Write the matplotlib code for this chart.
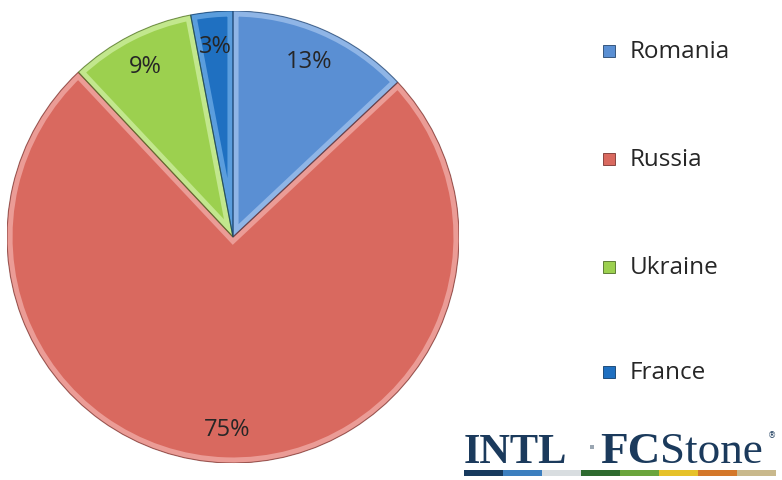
import matplotlib.pyplot as plt
from matplotlib.patches import Rectangle, Wedge

# data
countries = ["Romania", "Russia", "Ukraine", "France"]
shares = [13, 75, 9, 3]
colors = ["#5a8fd3", "#d9695f", "#9cd04f", "#1f70c1"]
rims = ["#8fb5e6", "#eb9c96", "#c2e78d", "#5a9ddd"]
edges = ["#24456e", "#7a3430", "#4f6e26", "#0f3c6a"]

# logo stripe colours
stripe = ["#173a5e", "#3c7fbf", "#d8dde0", "#2d6a2f", "#6aa53c",
          "#e6c229", "#d4782a", "#c9b98c"]

fig = plt.figure(figsize=(7.82, 4.81), dpi=100)
ax = fig.add_axes([7 / 782, 17 / 481, 452 / 782, 452 / 481])

wedges, texts, autotexts = ax.pie(
    shares, colors=colors, startangle=90, counterclock=False, radius=1.0,
    autopct="%d%%", pctdistance=0.85,
    wedgeprops=dict(linewidth=0))

# bevel: a light stroke clipped to each wedge, then a thin dark outline
for w, rim, e in zip(wedges, rims, edges):
    r = ax.add_patch(Wedge(w.center, w.r, w.theta1, w.theta2, facecolor="none",
                           edgecolor=rim, linewidth=8, zorder=w.get_zorder() + 0.1))
    r.set_clip_path(w)
    o = ax.add_patch(Wedge(w.center, w.r, w.theta1, w.theta2, facecolor="none",
                           edgecolor=e, linewidth=0.8, alpha=0.7,
                           zorder=w.get_zorder() + 0.2))

for t in autotexts:
    t.set_fontsize(17)
    t.set_color("#262626")
    t.set_family("Open Sans")
    t.set_zorder(5)
ax.set_xlim(-1.0, 1.0)
ax.set_ylim(-1.0, 1.0)
ax.set_aspect("equal")

# legend
ys = [52, 160, 268, 373]
for name, c, e, y in zip(countries, colors, edges, ys):
    fig.add_artist(Rectangle((603 / 782, 1 - (y + 6) / 481), 12 / 782, 12 / 481,
                             transform=fig.transFigure, facecolor=c,
                             edgecolor=e, linewidth=0.6))
    fig.text(630 / 782, 1 - y / 481, name, fontsize=17.5, family="Open Sans",
             color="#262626", va="center", ha="left")

# logo
navy = "#1b3a5c"
base = 1 - 463 / 481
fig.text(464 / 782, base, "INTL", fontsize=30.5, family="Liberation Serif",
         weight="bold", color=navy, va="baseline", ha="left")
fig.add_artist(Rectangle((590 / 782, 1 - 450 / 481), 4 / 782, 4 / 481,
                         transform=fig.transFigure, facecolor="#9aa6b2", linewidth=0))
fc = fig.text(600 / 782, base, "FC", fontsize=32.5, family="Liberation Serif",
              weight="bold", color=navy, va="baseline", ha="left")
renderer = fig.canvas.get_renderer()
fc_end = fc.get_window_extent(renderer).x1 / (7.82 * fig.dpi)
fig.text(fc_end, base, "Stone", fontsize=32.5, family="Liberation Serif",
         color=navy, va="baseline", ha="left")
fig.text(768 / 782, 1 - 436 / 481, "®", fontsize=6, color=navy, va="center", ha="left")

x0, x1 = 464, 776
seg = (x1 - x0) / len(stripe)
for i, c in enumerate(stripe):
    fig.add_artist(Rectangle(((x0 + i * seg) / 782, 1 - 477 / 481), seg / 782, 6 / 481,
                             transform=fig.transFigure, facecolor=c, linewidth=0))

fig.savefig("out.png", dpi=100, facecolor="white")
